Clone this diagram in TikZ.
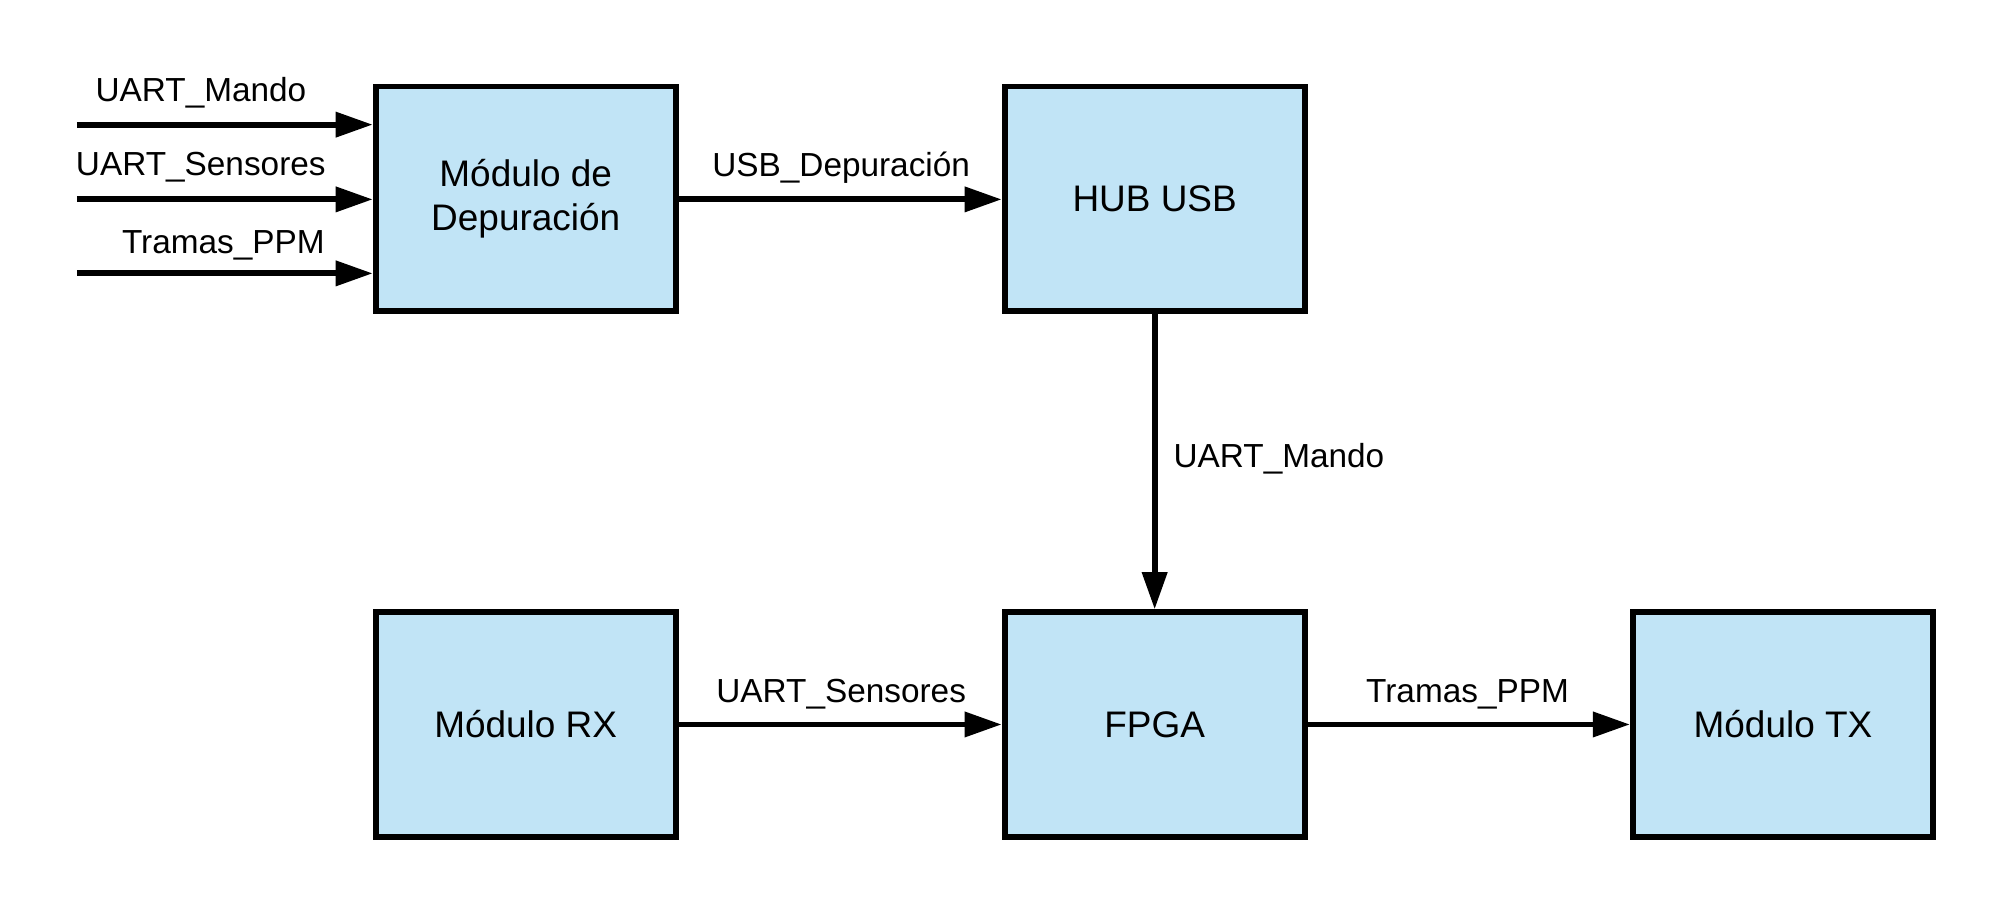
\documentclass[tikz,border=0pt]{standalone}
\usepackage{fontspec}
\setmainfont{Liberation Sans}
\usepackage{tikz}
\usetikzlibrary{arrows.meta}
\definecolor{boxblue}{RGB}{193, 228, 246}
\def\bw{2.34cm}
\def\bh{1.75cm}
\def\boxfont{\fontsize{8.2}{9.9}\selectfont}
\def\lblfont{\fontsize{7.4}{8.9}\selectfont}

\begin{document}
\begin{tikzpicture}[line width=1.3pt,
    block/.style={draw=black, fill=boxblue, minimum width=\bw, minimum height=\bh,
                  align=center, inner sep=0pt, font=\boxfont},
    sig/.style={-{Triangle[length=0.29cm, width=0.19cm]}},
    lbl/.style={font=\lblfont, inner sep=0pt, anchor=base}]

         \useasboundingbox (0, 0) rectangle (15.66, -7.106);

         \node[block] (dep) at (4.10, -1.55) {Módulo de\\Depuración};
         \node[block] (hub) at (9.005, -1.55) {HUB USB};
         \node[block] (rx) at (4.10, -5.65) {Módulo RX};
         \node[block] (fpga) at (9.005, -5.65) {FPGA};
         \node[block] (tx) at (13.905, -5.65) {Módulo TX};

         \coordinate (in1) at (0.60, -0.972);
         \coordinate (in2) at (0.60, -1.555);
         \coordinate (in3) at (0.60, -2.132);

         \draw[sig] (in1) -- (in1 -| dep.west);
         \draw[sig] (in2) -- (in2 -| dep.west);
         \draw[sig] (in3) -- (in3 -| dep.west);
         \draw[sig] (dep.east |- in2) -- (hub.west |- in2);
         \draw[sig] (hub.south) -- (fpga.north);
         \draw[sig] (rx.east) -- (fpga.west);
         \draw[sig] (fpga.east) -- (tx.west);

         \node[lbl] (lmando) at (1.567, -0.793) {UART\_Mando};
         \node[lbl] (lsens) at (1.566, -1.365) {UART\_Sensores};
         \node[lbl] (lppm) at (1.742, -1.976) {Tramas\_PPM};
         \node[lbl] (lusb) at (6.56, -1.378) {USB\_Depuración};
         \node[lbl, anchor=base west] (lmando2) at (9.13, -3.645) {UART\_Mando};
         \node[lbl] (lsens2) at (6.56, -5.478) {UART\_Sensores};
         \node[lbl] (lppm2) at (11.445, -5.478) {Tramas\_PPM};

     \end{tikzpicture}
\end{document}
